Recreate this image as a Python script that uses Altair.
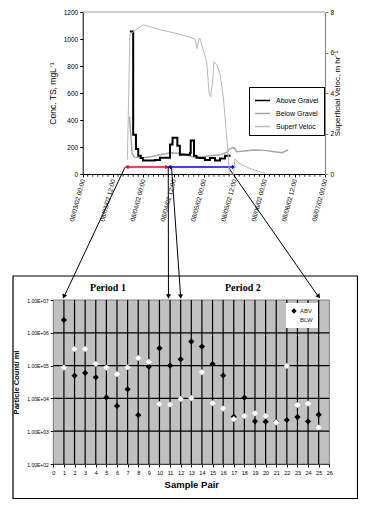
import math
import altair as alt
import pandas as pd

# ---------------- upper panel data (hours after 08/03/02 00:00) ----------------
above_hours = [18.7, 20.0, 21.1, 22.0, 23.0, 23.9, 28.6, 30.6, 34.6, 35.6, 37.5, 38.5,
               42.5, 42.8, 44.1, 45.1, 46.5, 48.4, 50.4, 52.4, 54.4, 56.4, 58.6]
above_ts = [1055, 290, 185, 135, 118, 100, 104, 120, 218, 268, 210, 142,
            155, 248, 135, 120, 118, 104, 118, 100, 115, 135, 135]

below_hours = [18.5, 19.6, 20.5, 24.0, 27.0, 30.0, 33.0, 35.0, 40.0, 44.0, 47.0, 50.0,
               54.0, 57.0, 58.5, 60.0, 61.0, 64.0, 68.0, 72.0, 76.0, 79.0, 80.5, 81.4]
below_ts = [425, 150, 125, 120, 128, 140, 150, 158, 150, 125, 125, 135,
            140, 160, 190, 195, 165, 170, 178, 175, 165, 158, 170, 178]

veloc_hours = [17.7, 18.7, 23.9, 30.6, 38.5, 44.5, 45.3, 46.1, 46.5, 49.1, 50.1, 50.7,
               51.5, 52.0, 53.1, 54.4, 55.7, 57.0, 57.7, 58.1, 59.9, 60.3, 62.3, 66.3,
               70.2, 72.2]
veloc_val = [0.7, 6.9, 7.37, 7.13, 6.9, 6.67, 6.2, 6.7, 6.67, 5.55, 3.98, 3.82,
             4.6, 5.55, 5.4, 4.92, 3.82, 1.94, 0.82, 0.0, 0.0, 0.74, 0.5, 0.27,
             0.11, 0.03]

series_names = ["Above Gravel", "Below Gravel", "Superf Veloc"]
series_colors = ["#000000", "#a6a6a6", "#b8b8b8"]
series_widths = [2.0, 1.0, 1.6]

ts_ticks = [0, 200, 400, 600, 800, 1000, 1200]
vel_ticks = [0, 2, 4, 6, 8]
minor_hours = [h for h in range(2, 96, 2) if h % 12 != 0]

# sampling periods (double arrows)
period_names = ["Period 1", "Period 2"]
period_start_h = [17.4, 34.3]
period_end_h = [33.5, 59.9]
period_ts = [52, 52]
period_colors = ["#ff0000", "#0000ff"]
period_label_n = [5.15, 17.85]

# links from the upper panel to sample pairs of the lower panel
link_top_h = [16.75, 33.9, 35.2, 57.7]
link_top_ts = [50, 50, 50, 50]
link_sample = [1, 10.85, 12, 25]

# ---------------- lower panel data ----------------
sample_pair = list(range(1, 26))
abv = [2.45e6, 4.9e4, 6.0e4, 4.4e4, 1.07e4, 5.9e3, 1.9e4, 3.1e3, 9.3e4, 3.4e5,
       1.0e5, 1.55e5, 5.4e5, 3.8e5, 1.12e5, 5.0e4, 2.75e3, 1.05e4, 2.0e3, 1.95e3,
       1.9e3, 2.2e3, 2.7e3, 2.0e3, 3.2e3]
blw = [8.7e4, 3.2e5, 3.2e5, 1.12e5, 8.7e4, 5.5e4, 8.9e4, 1.7e5, 1.3e5, 6.7e3,
       6.5e3, 9.6e3, 1.02e4, 6.3e4, 7.1e3, 4.9e3, 2.35e3, 2.9e3, 3.5e3, 2.9e3,
       1.85e3, 9.8e4, 6.3e3, 6.9e3, 1.3e3]
decades = [1e2, 1e3, 1e4, 1e5, 1e6, 1e7]
pair_ticks = list(range(0, 27))

# ---------------- layout (chart pixels) ----------------
W, H = 350, 491
TOP_X0, TOP_X1 = 74.7, 317.0
TOP_Y0, TOP_Y1 = 166.0, 4.0
BOT_X0, BOT_X1 = 45.3, 321.3
BOT_Y0, BOT_Y1 = 456.0, 292.0
LINK_END_Y = 289.0
FONT = "Liberation Sans"

base = pd.Timestamp("2002-08-03 00:00")


def to_time(hours):
    return [base + pd.Timedelta(hours=float(h)) for h in hours]


def px_to_hours(px):
    return (px - TOP_X0) * 96.0 / (TOP_X1 - TOP_X0)


def hours_to_px(h):
    return TOP_X0 + h * (TOP_X1 - TOP_X0) / 96.0


def ts_to_py(v):
    return TOP_Y0 - v * (TOP_Y0 - TOP_Y1) / 1200.0


def py_to_ts(py):
    return (TOP_Y0 - py) * 1200.0 / (TOP_Y0 - TOP_Y1)


def sample_to_px(n):
    return BOT_X0 + n * (BOT_X1 - BOT_X0) / 26.0


def dt(day, hour):
    return alt.DateTime(year=2002, month=8, date=day, hours=hour)


time_ticks = [dt(3 + i // 2, 12 * (i % 2)) for i in range(8)] + [dt(7, 0)]

# ---------------- upper panel ----------------
top_x_axis = alt.Axis(orient="bottom", offset=TOP_Y0 - H, values=time_ticks,
                      format="%m/%d/%y %H:%M", labelAngle=285, labelFontSize=6.5,
                      labelFlush=False, labelOverlap=False, tickSize=3, labelPadding=2,
                      domainColor="black", tickColor="black", labelColor="black",
                      title=None, grid=False)


def top_x(field):
    return alt.X(field, type="temporal",
                 scale=alt.Scale(domain=[dt(3, 0), dt(7, 0)], range=[TOP_X0, TOP_X1]),
                 axis=top_x_axis)


ts_axis = alt.Axis(orient="left", offset=-TOP_X0, values=ts_ticks, format="d",
                   labelFontSize=6.5, tickSize=3, labelPadding=2, domainColor="black",
                   tickColor="black", labelColor="black", title="Conc. TS, mgL⁻¹",
                   titleFontSize=8.5, titleFontWeight="normal", titleColor="black",
                   titlePadding=6, grid=False)


def top_y(field):
    return alt.Y(field, type="quantitative",
                 scale=alt.Scale(domain=[0, 1200], range=[TOP_Y0, TOP_Y1], nice=False, zero=False),
                 axis=ts_axis)


leg_top = alt.Legend(orient="none", legendX=241, legendY=79, title=None,
                     fillColor="white", strokeColor="black", padding=5,
                     labelFontSize=7, labelFont=FONT, labelColor="black",
                     symbolType="stroke", symbolSize=225, rowPadding=1, labelOffset=5)
color_enc = alt.Color("series:N", scale=alt.Scale(domain=series_names, range=series_colors),
                      legend=leg_top)
width_enc = alt.StrokeWidth("series:N", scale=alt.Scale(domain=series_names, range=series_widths),
                            legend=leg_top)

above_df = pd.DataFrame({"t": to_time(above_hours), "ts": above_ts, "series": "Above Gravel"})
below_df = pd.DataFrame({"t": to_time(below_hours), "ts": below_ts, "series": "Below Gravel"})
veloc_df = pd.DataFrame({"t": to_time(veloc_hours), "vel": veloc_val, "series": "Superf Veloc"})

below_line = alt.Chart(below_df).mark_line().encode(
    x=top_x("t"), y=top_y("ts"), color=color_enc, strokeWidth=width_enc)
above_line = alt.Chart(above_df).mark_line(interpolate="step-after").encode(
    x=top_x("t"), y=top_y("ts"), color=color_enc, strokeWidth=width_enc)

frame_df = pd.DataFrame({"t": to_time([0]), "t2": to_time([96]), "ts": [1200]})
top_frame = alt.Chart(frame_df).mark_rule(color="#9a9a9a", strokeWidth=1).encode(
    x=top_x("t"), x2="t2:T", y=top_y("ts"))

minor_df = pd.DataFrame({"t": to_time(minor_hours), "ts": 0})
minor_ticks = alt.Chart(minor_df).mark_tick(orient="vertical", size=2.5, thickness=0.8,
                                            yOffset=1.5, color="black", opacity=1).encode(
    x=top_x("t"), y=top_y("ts"))

period_layers = []
for i in range(len(period_names)):
    pdf = pd.DataFrame({"t": to_time([period_start_h[i]]), "t2": to_time([period_end_h[i]]),
                        "ts": [period_ts[i]]})
    period_layers.append(alt.Chart(pdf).mark_rule(color=period_colors[i], strokeWidth=1.3).encode(
        x=top_x("t"), x2="t2:T", y=top_y("ts")))
    period_layers.append(alt.Chart(pdf).mark_point(shape="triangle-left", filled=True, size=22,
                                                   color=period_colors[i], opacity=1).encode(
        x=top_x("t"), y=top_y("ts")))
    period_layers.append(alt.Chart(pdf).mark_point(shape="triangle-right", filled=True, size=22,
                                                   color=period_colors[i], opacity=1).encode(
        x=top_x("t2"), y=top_y("ts")))

link_end_h = [px_to_hours(sample_to_px(n)) for n in link_sample]
link_end_ts = [py_to_ts(LINK_END_Y)] * len(link_sample)
link_df = pd.DataFrame({"t": to_time(link_top_h), "t2": to_time(link_end_h),
                        "ts": link_top_ts, "ts2": link_end_ts})
links = alt.Chart(link_df).mark_rule(color="black", strokeWidth=1).encode(
    x=top_x("t"), x2="t2:T", y=top_y("ts"), y2="ts2:Q")

vel_axis = alt.Axis(orient="right", offset=TOP_X1 - W, values=vel_ticks, labelFontSize=6.5,
                    tickSize=3, labelPadding=2, domainColor="#808080", tickColor="#808080",
                    labelColor="black", title="Superficial Veloc, m hr⁻¹", titleFontSize=8,
                    titleFontWeight="normal", titleColor="black", titleAngle=270,
                    titlePadding=8, grid=False)
veloc_line = alt.Chart(veloc_df).mark_line().encode(
    x=top_x("t"),
    y=alt.Y("vel:Q", scale=alt.Scale(domain=[0, 8], range=[TOP_Y0, TOP_Y1], nice=False),
            axis=vel_axis),
    color=color_enc, strokeWidth=width_enc)

ts_layer = alt.layer(top_frame, minor_ticks, below_line, above_line, *period_layers, links)
upper = alt.layer(ts_layer, veloc_line).resolve_scale(y="independent")

# ---------------- lower panel ----------------
bx_axis = alt.Axis(orient="bottom", offset=BOT_Y0 - H, values=pair_ticks, labelFontSize=5.5,
                   tickSize=3, labelPadding=3, domainColor="black", tickColor="black",
                   labelColor="black", labelFlush=False, labelOverlap=False,
                   title="Sample Pair", titleFontSize=9.5, titleFontWeight="bold",
                   titleColor="black", titlePadding=4, grid=False)
by_axis = alt.Axis(orient="left", offset=-BOT_X0, values=decades, labelFontSize=5,
                   tickSize=3, labelPadding=2, domainColor="black", tickColor="black",
                   labelColor="black",
                   labelExpr="'1.00E+0' + round(log(datum.value) / LN10)",
                   title="Particle Count/ ml", titleFontSize=7.5, titleFontWeight="bold",
                   titleColor="black", titlePadding=6, grid=False)


def bot_x(field):
    return alt.X(field, type="quantitative",
                 scale=alt.Scale(domain=[0, 26], range=[BOT_X0, BOT_X1], nice=False, zero=False),
                 axis=bx_axis)


def bot_y(field):
    return alt.Y(field, type="quantitative",
                 scale=alt.Scale(type="log", domain=[1e2, 1e7], range=[BOT_Y0, BOT_Y1], nice=False),
                 axis=by_axis)


one = pd.DataFrame({"n": [0], "n2": [26], "v": [1e2], "v2": [1e7]})
bg = alt.Chart(one).mark_rect(fill="#c0c0c0", stroke="#808080", strokeWidth=1).encode(
    x=bot_x("n"), x2="n2:Q", y=bot_y("v"), y2="v2:Q")

hgrid_df = pd.DataFrame({"n": 0, "n2": 26, "v": decades[1:-1]})
hgrid = alt.Chart(hgrid_df).mark_rule(color="black", strokeWidth=1.2).encode(
    x=bot_x("n"), x2="n2:Q", y=bot_y("v"))
vgrid_df = pd.DataFrame({"n": sample_pair, "v": 1e2, "v2": 1e7})
vgrid = alt.Chart(vgrid_df).mark_rule(color="black", strokeWidth=1.2).encode(
    x=bot_x("n"), y=bot_y("v"), y2="v2:Q")

pts_df = pd.DataFrame({"n": sample_pair * 2, "v": abv + blw,
                       "series": ["ABV"] * len(abv) + ["BLW"] * len(blw)})
leg_bot = alt.Legend(orient="none", legendX=278, legendY=295, title=None, fillColor="white",
                     padding=5, labelFontSize=6, labelFont=FONT, labelColor="#222222",
                     symbolType="diamond", symbolSize=28, rowPadding=3, labelOffset=3,
                     symbolStrokeWidth=0)
points = alt.Chart(pts_df).mark_point(shape="diamond", filled=True, size=38, opacity=1).encode(
    x=bot_x("n"), y=bot_y("v"),
    color=alt.Color("series:N", scale=alt.Scale(domain=["ABV", "BLW"], range=["black", "white"]),
                    legend=leg_bot),
    order=alt.Order("series:N"))

ang = []
for i in range(len(link_sample)):
    dx = sample_to_px(link_sample[i]) - hours_to_px(link_top_h[i])
    dy = LINK_END_Y - ts_to_py(link_top_ts[i])
    ang.append((-math.degrees(math.atan2(dx, dy))) % 360)
head_df = pd.DataFrame({"n": link_sample, "v": [10 ** (7 + 3.5 / 33.0)] * len(link_sample),
                        "ang": ang})
heads = alt.Chart(head_df).mark_point(shape="triangle-down", filled=True, size=26,
                                      color="black", opacity=1).encode(
    x=bot_x("n"), y=bot_y("v"), angle=alt.Angle("ang:Q", scale=None))

lab_df = pd.DataFrame({"n": period_label_n, "v": [10 ** (7 + 12.5 / 33.0)] * 2,
                       "label": period_names})
period_text = alt.Chart(lab_df).mark_text(font="Liberation Serif", fontWeight="bold",
                                          fontSize=10, color="black").encode(
    x=bot_x("n"), y=bot_y("v"), text="label:N")

box = alt.Chart(alt.Data(values=[{}])).mark_rect(fill=None, stroke="black", strokeWidth=1.2).encode(
    x=alt.value(5), x2=alt.value(349.5), y=alt.value(268), y2=alt.value(490.5))

lower = alt.layer(box, bg, hgrid, vgrid, points, heads, period_text)

chart = alt.layer(upper, lower).resolve_scale(
    x="independent", y="independent", color="independent"
).properties(
    width=W, height=H, padding=0, autosize=alt.AutoSizeParams(type="none")
).configure(font=FONT).configure_view(stroke=None).configure_axis(
    labelFont=FONT, titleFont=FONT)

chart.save("out.html", embed_options={"renderer": "svg", "actions": False})
